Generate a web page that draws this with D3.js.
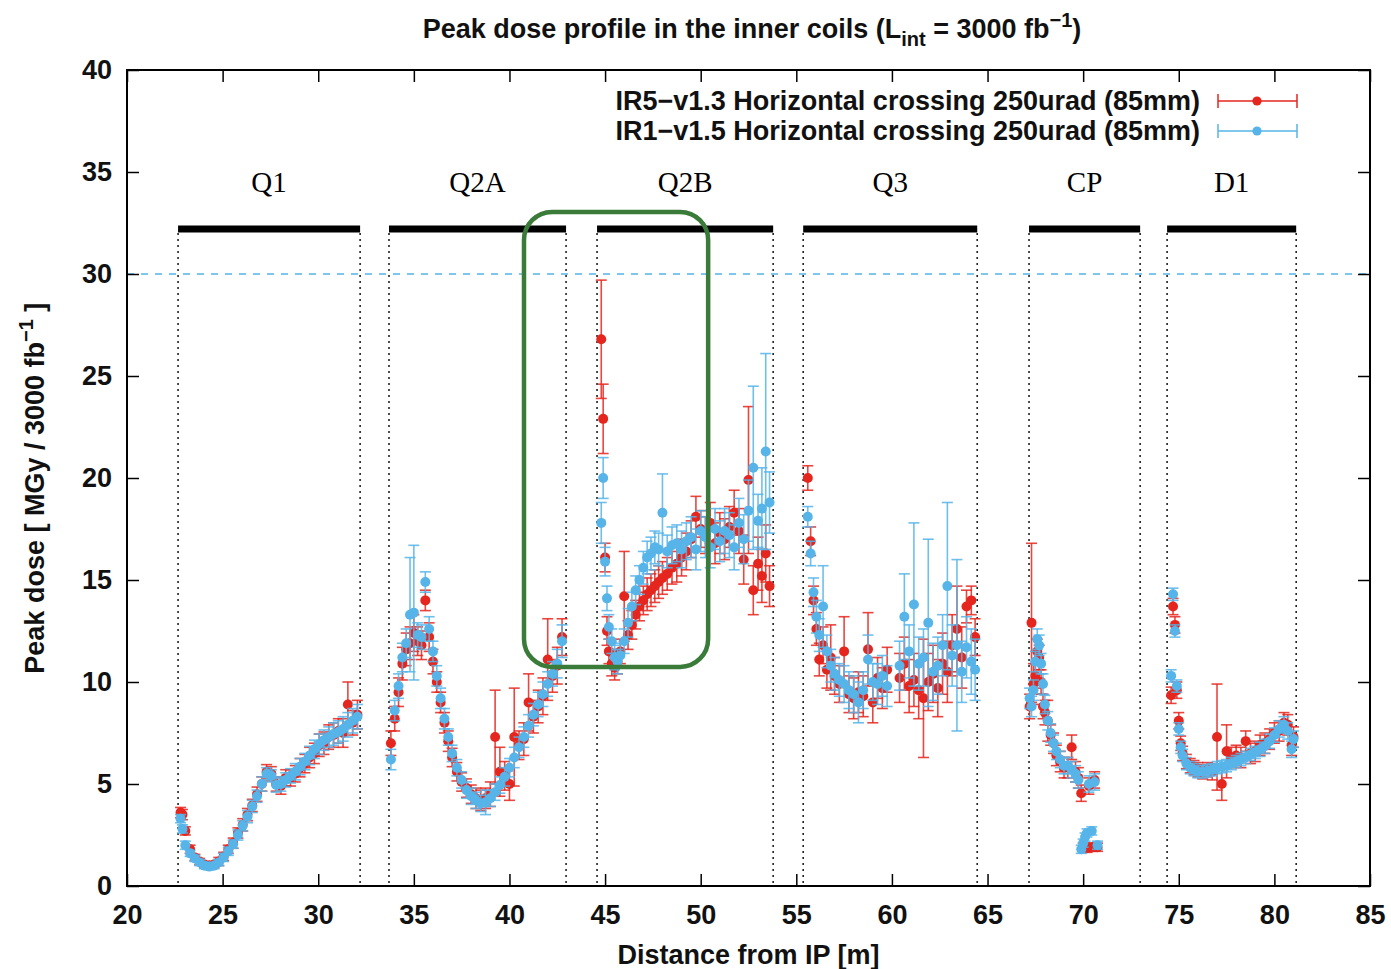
<!DOCTYPE html>
<html>
<head>
<meta charset="utf-8">
<script src="https://cdn.jsdelivr.net/npm/d3@7"></script>
<style>
  body { margin: 0; background: #fff; }
  svg text { font-family: "Liberation Sans", Arial, sans-serif; }
</style>
</head>
<body>
<div id="wrapper"></div>
<script>
// data: one line per magnet (Q1, Q2A, Q2B, Q3, CP, D1)
const distance = [
  22.8, 22.9, 23.05, 23.3, 23.55, 23.8, 24.05, 24.3, 24.55, 24.8, 25.05, 25.3, 25.55, 25.8, 26.05, 26.3, 26.55, 26.8, 27.05, 27.3, 27.55, 27.8, 28.05, 28.3, 28.55, 28.8, 29.05, 29.3, 29.55, 29.8, 30.05, 30.3, 30.55, 30.8, 31.05, 31.3, 31.55, 31.8, 32.05,
  33.8, 34.0, 34.2, 34.4, 34.6, 34.8, 35.0, 35.2, 35.4, 35.6, 35.8, 36.0, 36.2, 36.4, 36.6, 36.8, 37.0, 37.25, 37.5, 37.75, 38.0, 38.25, 38.5, 38.75, 39.0, 39.25, 39.5, 39.75, 40.0, 40.25, 40.5, 40.75, 41.0, 41.25, 41.5, 41.75, 42.0, 42.25, 42.5, 42.75,
  44.8, 44.9, 45.0, 45.1, 45.2, 45.35, 45.5, 45.65, 45.8, 46.0, 46.2, 46.4, 46.6, 46.8, 47.0, 47.2, 47.4, 47.6, 47.8, 48.0, 48.25, 48.5, 48.75, 49.0, 49.25, 49.5, 49.75, 50.0, 50.25, 50.5, 50.75, 51.0, 51.25, 51.5, 51.75, 52.0, 52.25, 52.5, 52.75, 53.0, 53.2, 53.4, 53.6,
  55.6, 55.75, 55.9, 56.05, 56.2, 56.4, 56.6, 56.8, 57.0, 57.25, 57.5, 57.75, 58.0, 58.25, 58.5, 58.75, 59.0, 59.25, 59.5, 59.75, 60.4, 60.65, 60.9, 61.15, 61.4, 61.65, 61.9, 62.15, 62.4, 62.65, 62.9, 63.15, 63.4, 63.65, 63.9, 64.15, 64.35,
  67.2, 67.3, 67.4, 67.5, 67.6, 67.7, 67.8, 67.9, 68.0, 68.15, 68.3, 68.45, 68.6, 68.8, 69.0, 69.2, 69.4, 69.6, 69.75, 69.9, 70.0, 70.1, 70.2, 70.3, 70.45, 70.6, 70.75,
  74.6, 74.7, 74.8, 74.9, 75.0, 75.1, 75.2, 75.4, 75.6, 75.8, 76.0, 76.25, 76.5, 76.75, 77.0, 77.25, 77.5, 77.75, 78.0, 78.25, 78.5, 78.75, 79.0, 79.25, 79.5, 79.75, 80.0, 80.25, 80.5, 80.7, 80.9, 81.0
]

// IR5-v1.3 (red)
const ir5Dose = [
  3.6, 3.5, 2.7, 1.8, 1.4, 1.2, 1.05, 1.0, 1.05, 1.2, 1.45, 1.8, 2.1, 2.6, 3.0, 3.5, 3.95, 4.5, 5.0, 5.6, 5.5, 5.0, 4.9, 5.3, 5.3, 5.5, 5.8, 6.0, 6.3, 6.5, 6.9, 7.0, 7.3, 7.4, 7.6, 7.5, 8.9, 8.0, 8.4,
  7.0, 8.2, 9.5, 10.9, 11.6, 11.9, 12.4, 12.0, 11.8, 14.0, 12.2, 11.0, 10.0, 9.0, 8.0, 7.1, 6.3, 5.6, 5.1, 4.8, 4.5, 4.3, 4.2, 4.3, 4.5, 7.3, 5.6, 5.4, 5.0, 7.3, 6.9, 7.2, 9.0, 8.3, 8.8, 9.3, 11.1, 10.3, 10.8, 12.2,
  26.8, 22.9, 16.1, 12.5, 11.5, 10.9, 10.7, 11.0, 11.5, 14.2, 12.3, 12.8, 13.3, 13.7, 14.0, 14.3, 14.5, 14.7, 14.9, 15.1, 15.3, 15.6, 15.8, 16.1, 16.4, 17.0, 18.1, 17.5, 17.2, 17.8, 16.8, 17.3, 17.0, 17.6, 18.3, 17.4, 16.0, 19.9, 14.5, 15.8, 15.2, 16.3, 14.7,
  20.0, 16.9, 14.0, 12.6, 11.1, 11.8, 10.6, 11.2, 10.3, 9.9, 11.5, 9.4, 9.2, 9.5, 9.3, 11.6, 9.0, 10.2, 9.7, 10.6, 10.2, 10.9, 9.8, 10.1, 9.6, 9.2, 10.0, 10.4, 9.7, 10.9, 10.5, 11.8, 12.6, 11.2, 13.7, 14.0, 12.2,
  8.8, 12.9, 9.9, 10.3, 11.5, 11.2, 10.0, 8.8, 8.5, 8.1, 7.4, 7.0, 6.4, 6.1, 5.8, 5.8, 6.8, 5.6, 5.3, 4.55, 1.9, 1.9, 1.85, 4.9, 1.9, 5.2, 1.9,
  9.35, 13.7, 12.8, 9.6, 8.1, 7.0, 6.5, 6.1, 5.9, 5.8, 5.7, 5.6, 5.7, 5.6, 7.3, 5.0, 6.6, 6.3, 6.4, 6.3, 7.1, 6.5, 6.6, 6.9, 7.0, 7.2, 7.5, 7.6, 8.0, 7.9, 6.9, 7.3
]
const ir5Err = [
  0.25, 0.25, 0.2, 0.2, 0.15, 0.15, 0.15, 0.15, 0.15, 0.2, 0.2, 0.2, 0.25, 0.25, 0.3, 0.3, 0.3, 0.35, 0.35, 0.35, 0.35, 0.35, 0.4, 0.4, 0.4, 0.4, 0.45, 0.45, 0.5, 0.5, 0.55, 0.55, 0.6, 0.6, 0.6, 0.7, 1.1, 0.6, 0.7,
  0.6, 0.6, 0.7, 0.8, 0.8, 0.8, 0.9, 0.7, 0.7, 0.5, 0.7, 0.6, 0.5, 0.5, 0.5, 0.5, 0.45, 0.45, 0.45, 0.45, 0.45, 0.5, 0.5, 0.5, 0.6, 2.3, 1.2, 0.7, 0.8, 2.4, 0.7, 0.8, 1.4, 0.8, 0.8, 0.9, 2.0, 0.8, 0.9, 0.9,
  2.9, 1.7, 0.7, 0.7, 0.6, 0.6, 0.6, 0.6, 0.6, 2.2, 0.7, 0.7, 0.7, 0.7, 0.7, 0.8, 0.8, 0.8, 0.8, 0.8, 0.8, 0.8, 0.9, 0.9, 0.9, 0.9, 1.0, 0.9, 0.9, 1.0, 1.0, 1.0, 1.0, 1.0, 1.1, 1.1, 1.2, 3.6, 1.2, 1.3, 1.3, 1.4, 1.0,
  0.6, 0.7, 0.7, 0.8, 0.8, 0.9, 0.9, 1.6, 0.9, 0.9, 1.7, 0.9, 1.0, 1.0, 1.0, 1.8, 1.0, 1.0, 1.0, 1.1, 1.2, 1.3, 1.3, 1.3, 1.4, 2.9, 1.4, 1.4, 1.4, 1.5, 1.5, 1.5, 2.1, 1.5, 0.8, 0.7, 0.9,
  0.6, 3.9, 1.0, 0.6, 0.6, 0.6, 0.6, 0.6, 0.6, 1.0, 0.5, 0.5, 0.5, 0.5, 0.5, 0.5, 0.6, 0.5, 0.5, 0.4, 0.2, 0.2, 0.2, 0.4, 0.2, 0.4, 0.2,
  0.4, 0.4, 0.4, 0.4, 0.4, 0.35, 0.35, 0.35, 0.35, 0.35, 0.35, 0.35, 0.35, 0.4, 2.6, 0.8, 1.3, 0.5, 0.5, 0.5, 0.5, 0.5, 0.5, 0.5, 0.5, 0.5, 0.5, 0.5, 0.5, 0.5, 0.5, 0.5
]

// IR1-v1.5 (blue)
const ir1Dose = [
  3.3, 2.8, 2.0, 1.6, 1.35, 1.15, 1.0, 0.95, 1.0, 1.15, 1.4, 1.7, 2.05, 2.5, 2.95, 3.4, 3.9, 4.4, 5.0, 5.5, 5.4, 4.95, 5.0, 5.2, 5.4, 5.6, 5.85, 6.1, 6.4, 6.7, 6.95, 7.15, 7.3, 7.45, 7.55, 7.7, 7.9, 8.1, 8.3,
  6.2, 8.6, 9.8, 11.2, 11.9, 13.3, 13.4, 12.3, 12.2, 14.9, 12.6, 11.5, 10.3, 9.2, 8.2, 7.3, 6.5, 5.8, 5.2, 4.7, 4.4, 4.2, 4.05, 4.1, 4.3, 4.6, 4.95, 5.35, 5.8, 6.3, 6.8, 7.3, 7.85, 8.4, 8.9, 9.4, 9.9, 10.4, 10.9, 12.0,
  17.8, 20.0, 15.9, 14.1, 12.7, 12.0, 11.2, 11.0, 11.3, 12.0, 12.9, 13.7, 14.5, 15.0, 15.6, 16.1, 16.3, 16.6, 16.5, 18.3, 16.4, 16.7, 16.8, 16.5, 16.9, 17.1, 16.5, 17.4, 17.1, 16.6, 17.5, 16.9, 17.4, 17.2, 16.6, 17.8, 17.0, 18.4, 20.5, 17.9, 18.5, 21.3, 18.8,
  18.1, 16.3, 14.4, 13.2, 12.3, 13.7, 11.5, 10.8, 10.4, 10.1, 9.9, 9.6, 9.4, 9.0, 9.6, 11.1, 10.0, 9.9, 10.3, 9.8, 10.8, 13.2, 11.5, 13.8, 10.9, 11.2, 12.9, 10.5, 10.8, 11.8, 14.7, 11.3, 11.8, 10.5, 11.7, 11.0, 10.6,
  9.2, 8.8, 9.6, 11.0, 12.1, 11.8, 10.9, 9.9, 8.9, 8.1, 7.5, 7.0, 6.6, 6.2, 5.9, 5.9, 5.7, 5.5, 5.2, 1.8, 2.1, 2.4, 2.6, 5.0, 2.7, 5.1, 2.0,
  10.3, 14.3, 12.5, 9.8, 7.7, 6.8, 6.4, 6.0, 5.8, 5.7, 5.6, 5.6, 5.65, 5.7, 5.8, 5.85, 5.9, 6.0, 6.1, 6.2, 6.3, 6.45, 6.55, 6.7, 6.85, 7.1, 7.4, 7.7, 7.9, 7.6, 6.7, 7.2
]
const ir1Err = [
  0.2, 0.2, 0.2, 0.15, 0.15, 0.15, 0.15, 0.15, 0.15, 0.15, 0.2, 0.2, 0.2, 0.25, 0.25, 0.3, 0.3, 0.3, 0.35, 0.3, 0.3, 0.35, 0.35, 0.35, 0.35, 0.4, 0.4, 0.4, 0.45, 0.45, 0.5, 0.5, 0.5, 0.55, 0.55, 0.6, 0.6, 0.6, 0.6,
  0.5, 0.5, 0.6, 0.7, 0.7, 2.8, 3.3, 0.6, 0.6, 0.5, 0.6, 0.5, 0.5, 0.5, 0.5, 0.4, 0.4, 0.4, 0.4, 0.4, 0.4, 0.4, 0.4, 0.6, 0.4, 0.4, 0.4, 0.45, 0.45, 0.5, 0.5, 0.5, 0.55, 0.55, 0.6, 0.6, 0.6, 0.6, 0.7, 0.8,
  1.0, 1.0, 0.7, 0.6, 0.6, 0.6, 0.6, 0.6, 0.6, 0.6, 0.7, 0.7, 0.7, 0.7, 0.8, 0.8, 0.8, 0.8, 0.8, 1.9, 0.8, 0.9, 0.9, 0.9, 0.9, 1.0, 1.0, 1.0, 1.0, 1.0, 1.0, 1.0, 1.1, 1.1, 1.1, 1.2, 1.2, 1.5, 4.0, 1.3, 2.0, 4.8, 1.5,
  0.5, 0.6, 0.7, 0.8, 0.8, 2.0, 0.8, 0.8, 0.8, 0.8, 0.9, 0.9, 0.9, 1.0, 0.9, 1.2, 0.9, 1.0, 1.0, 1.0, 1.2, 2.1, 1.3, 4.0, 1.3, 1.4, 4.1, 1.4, 1.4, 1.5, 4.1, 1.5, 4.2, 1.5, 1.5, 1.6, 1.5,
  0.5, 0.5, 0.5, 0.5, 0.5, 0.5, 0.5, 0.5, 0.45, 0.45, 0.45, 0.4, 0.4, 0.4, 0.4, 0.4, 0.4, 0.4, 0.4, 0.2, 0.2, 0.2, 0.2, 0.4, 0.2, 0.4, 0.2,
  0.3, 0.3, 0.3, 0.3, 0.3, 0.3, 0.3, 0.3, 0.3, 0.3, 0.3, 0.3, 0.3, 0.3, 0.3, 0.3, 0.3, 0.3, 0.3, 0.3, 0.3, 0.3, 0.3, 0.35, 0.35, 0.35, 0.35, 0.4, 0.4, 0.4, 0.4, 0.4
]

const magnetNames = ["Q1", "Q2A", "Q2B", "Q3", "CP", "D1"]
const magnetStart = [22.67, 33.7, 44.58, 55.36, 67.17, 74.39]
const magnetEnd = [32.19, 42.96, 53.79, 64.46, 72.98, 81.14]
const magnetBarLevel = 32.2
const magnetLabelLevel = 34.5
const doseLimit = 30
const highlightX = [40.76, 50.39]
const highlightY = [10.74, 33.04]
const xTicks = [20, 25, 30, 35, 40, 45, 50, 55, 60, 65, 70, 75, 80, 85]
const yTicks = [0, 5, 10, 15, 20, 25, 30, 35, 40]
const seriesLabels = [
  "IR5\u2212v1.3 Horizontal crossing 250urad (85mm)",
  "IR1\u2212v1.5 Horizontal crossing 250urad (85mm)"
]

function drawChart() {
  const red = "#e5261f"
  const blue = "#56b4e9"
  const fontSize = "27px"

  let dimensions = {
    width: 1391,
    height: 969,
    margin: { top: 70, right: 21, bottom: 83, left: 127 }
  }
  dimensions.boundedWidth = dimensions.width - dimensions.margin.left - dimensions.margin.right
  dimensions.boundedHeight = dimensions.height - dimensions.margin.top - dimensions.margin.bottom

  const wrapper = d3.select("#wrapper")
    .append("svg")
      .attr("width", dimensions.width)
      .attr("height", dimensions.height)

  const bounds = wrapper.append("g")
    .attr("transform", `translate(${dimensions.margin.left},${dimensions.margin.top})`)

  // scales
  const xScale = d3.scaleLinear()
    .domain([20, 85])
    .range([0, dimensions.boundedWidth])
  const yScale = d3.scaleLinear()
    .domain([0, 40])
    .range([dimensions.boundedHeight, 0])

  // magnets: dotted boundaries, bars, names
  const magnets = magnetNames.map((name, i) => ({ name, start: magnetStart[i], end: magnetEnd[i] }))
  const edges = magnets.flatMap(m => [m.start, m.end])

  bounds.append("g").selectAll("line")
    .data(edges)
    .join("line")
      .attr("x1", d => xScale(d))
      .attr("x2", d => xScale(d))
      .attr("y1", yScale(magnetBarLevel) + 4)
      .attr("y2", dimensions.boundedHeight)
      .attr("stroke", "#222")
      .attr("stroke-width", 1.6)
      .attr("stroke-dasharray", "2,4")

  bounds.append("g").selectAll("line")
    .data(magnets)
    .join("line")
      .attr("x1", d => xScale(d.start))
      .attr("x2", d => xScale(d.end))
      .attr("y1", yScale(magnetBarLevel))
      .attr("y2", yScale(magnetBarLevel))
      .attr("stroke", "#000")
      .attr("stroke-width", 7)

  bounds.append("g").selectAll("text")
    .data(magnets)
    .join("text")
      .attr("x", d => xScale((d.start + d.end) / 2))
      .attr("y", yScale(magnetLabelLevel))
      .attr("dy", "0.35em")
      .attr("text-anchor", "middle")
      .style("font-family", "'Liberation Serif', 'DejaVu Serif', serif")
      .style("font-size", "29px")
      .text(d => d.name)

  // dose limit
  bounds.append("line")
    .attr("x1", 0)
    .attr("x2", dimensions.boundedWidth)
    .attr("y1", yScale(doseLimit))
    .attr("y2", yScale(doseLimit))
    .attr("stroke", blue)
    .attr("stroke-width", 1.5)
    .attr("stroke-dasharray", "7,7")

  // data
  const points = distance.map((x, i) => ({
    x,
    ir5: ir5Dose[i], ir5Err: ir5Err[i],
    ir1: ir1Dose[i], ir1Err: ir1Err[i]
  }))

  function drawSeries(valueKey, errKey, color) {
    const g = bounds.append("g")
    const bars = g.selectAll("g")
      .data(points)
      .join("g")
        .attr("stroke", color)
        .attr("stroke-width", 1.6)
        .attr("stroke-opacity", 0.85)
    bars.append("line")
      .attr("x1", d => xScale(d.x))
      .attr("x2", d => xScale(d.x))
      .attr("y1", d => yScale(d[valueKey] - d[errKey]))
      .attr("y2", d => yScale(d[valueKey] + d[errKey]))
    bars.append("line")
      .attr("x1", d => xScale(d.x) - 5.5)
      .attr("x2", d => xScale(d.x) + 5.5)
      .attr("y1", d => yScale(d[valueKey] - d[errKey]))
      .attr("y2", d => yScale(d[valueKey] - d[errKey]))
    bars.append("line")
      .attr("x1", d => xScale(d.x) - 5.5)
      .attr("x2", d => xScale(d.x) + 5.5)
      .attr("y1", d => yScale(d[valueKey] + d[errKey]))
      .attr("y2", d => yScale(d[valueKey] + d[errKey]))
    g.selectAll("circle")
      .data(points)
      .join("circle")
        .attr("cx", d => xScale(d.x))
        .attr("cy", d => yScale(d[valueKey]))
        .attr("r", 5)
        .attr("fill", color)
  }
  drawSeries("ir5", "ir5Err", red)
  drawSeries("ir1", "ir1Err", blue)

  // highlight box
  bounds.append("rect")
    .attr("x", xScale(highlightX[0]))
    .attr("y", yScale(highlightY[1]))
    .attr("width", xScale(highlightX[1]) - xScale(highlightX[0]))
    .attr("height", yScale(highlightY[0]) - yScale(highlightY[1]))
    .attr("rx", 28)
    .attr("fill", "none")
    .attr("stroke", "#3a7b3a")
    .attr("stroke-width", 4.5)

  // axes, ticks inward on all four sides
  const tickFont = g => g.selectAll("text")
    .style("font-size", fontSize)
    .style("font-weight", "bold")
    .attr("fill", "#111")

  bounds.append("g")
    .attr("transform", `translate(0,${dimensions.boundedHeight})`)
    .call(d3.axisBottom(xScale).tickValues(xTicks).tickSize(-12).tickSizeOuter(0).tickPadding(19))
    .call(tickFont)
  bounds.append("g")
    .call(d3.axisTop(xScale).tickValues(xTicks).tickSize(-12).tickSizeOuter(0).tickFormat(""))
  bounds.append("g")
    .call(d3.axisLeft(yScale).tickValues(yTicks).tickSize(-12).tickSizeOuter(0).tickPadding(15))
    .call(tickFont)
  bounds.append("g")
    .attr("transform", `translate(${dimensions.boundedWidth},0)`)
    .call(d3.axisRight(yScale).tickValues(yTicks).tickSize(-12).tickSizeOuter(0).tickFormat(""))

  bounds.selectAll(".domain").remove()
  bounds.selectAll(".tick line").attr("stroke", "#000").attr("stroke-width", 1.5)

  bounds.append("rect")
    .attr("width", dimensions.boundedWidth)
    .attr("height", dimensions.boundedHeight)
    .attr("fill", "none")
    .attr("stroke", "#000")
    .attr("stroke-width", 2)

  // legend
  const legend = bounds.append("g")
    .attr("transform", `translate(${dimensions.boundedWidth - 170},${31})`)
  const legendRows = legend.selectAll("g")
    .data(seriesLabels)
    .join("g")
      .attr("transform", (d, i) => `translate(0,${i * 30})`)
  legendRows.append("text")
    .attr("x", 0)
    .attr("dy", "0.35em")
    .attr("text-anchor", "end")
    .style("font-size", fontSize)
    .style("font-weight", "bold")
    .attr("fill", "#111")
    .text(d => d)
  const legendColors = [red, blue]
  legendRows.each(function(d, i) {
    const row = d3.select(this)
    const c = legendColors[i]
    row.append("line").attr("x1", 18).attr("x2", 97).attr("stroke", c).attr("stroke-width", 1.5)
    row.append("line").attr("x1", 18).attr("x2", 18).attr("y1", -7).attr("y2", 7).attr("stroke", c).attr("stroke-width", 1.5)
    row.append("line").attr("x1", 97).attr("x2", 97).attr("y1", -7).attr("y2", 7).attr("stroke", c).attr("stroke-width", 1.5)
    row.append("circle").attr("cx", 57).attr("r", 4.6).attr("fill", c)
  })

  // title and axis labels
  const title = wrapper.append("text")
    .attr("x", 752)
    .attr("y", 38)
    .attr("text-anchor", "middle")
    .style("font-size", fontSize)
    .style("font-weight", "bold")
    .attr("fill", "#111")
  title.append("tspan").text("Peak dose profile in the inner coils (L")
  title.append("tspan").attr("dy", 8).style("font-size", "20px").text("int")
  title.append("tspan").attr("dy", -8).text(" = 3000 fb")
  title.append("tspan").attr("dy", -11).style("font-size", "20px").text("\u22121")
  title.append("tspan").attr("dy", 11).text(")")

  wrapper.append("text")
    .attr("x", dimensions.margin.left + dimensions.boundedWidth / 2)
    .attr("y", 964)
    .attr("text-anchor", "middle")
    .style("font-size", fontSize)
    .style("font-weight", "bold")
    .attr("fill", "#111")
    .text("Distance from IP [m]")

  const yLabel = wrapper.append("text")
    .attr("transform", `translate(44,${yScale(19.5) + dimensions.margin.top}) rotate(-90)`)
    .attr("text-anchor", "middle")
    .style("font-size", fontSize)
    .style("font-weight", "bold")
    .attr("fill", "#111")
  yLabel.append("tspan").text("Peak dose [ MGy / 3000 fb")
  yLabel.append("tspan").attr("dy", -11).style("font-size", "20px").text("\u22121")
  yLabel.append("tspan").attr("dy", 11).text(" ]")
}

drawChart()
</script>
</body>
</html>
